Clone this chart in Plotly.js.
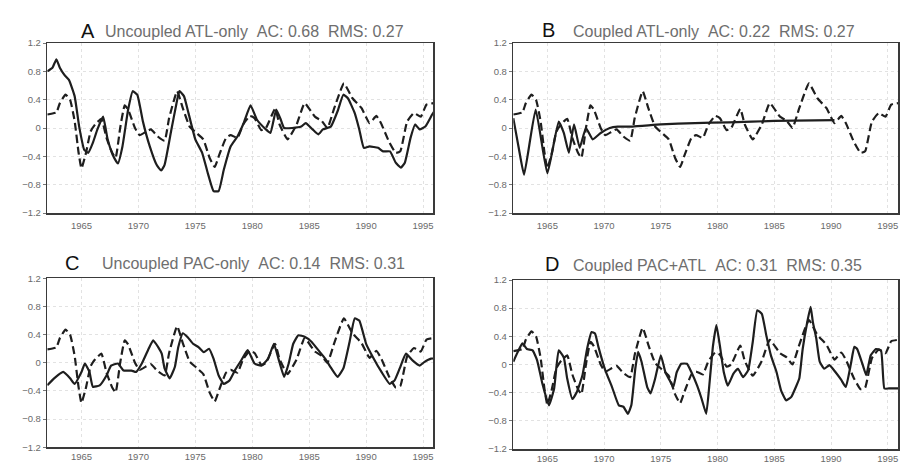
<!DOCTYPE html>
<html>
<head>
<meta charset="utf-8">
<script src="https://cdn.plot.ly/plotly-3.0.1.min.js"></script>
<style>html,body{margin:0;padding:0;background:#fff;}#chart{width:901px;height:463px;}</style>
</head>
<body>
<div id="chart"></div>
<script>
// Observed (dashed) series, shared by all panels
var obsYears = [1962.0,1962.8,1963.1,1963.6,1964.0,1964.4,1964.75,1965.0,1965.4,1965.8,1966.2,1966.75,1967.2,1967.7,1968.0,1968.4,1968.8,1969.1,1969.7,1970.1,1970.7,1971.1,1971.7,1972.3,1972.7,1973.4,1973.9,1974.5,1975.1,1975.7,1976.25,1976.7,1977.1,1977.7,1978.1,1978.7,1979.2,1979.8,1980.2,1980.8,1981.2,1982.0,1982.4,1983.1,1983.9,1984.6,1985.5,1986.1,1986.6,1987.2,1988.05,1988.8,1989.6,1990.3,1990.9,1991.3,1992.0,1992.6,1993.0,1993.6,1994.2,1994.8,1995.3,1995.9];
var obsValues = [0.19,0.22,0.35,0.47,0.4,0.1,-0.35,-0.57,-0.35,-0.05,0.05,0.13,-0.14,-0.35,-0.42,0.0,0.32,0.26,0.0,-0.1,-0.05,-0.02,-0.12,-0.18,0.14,0.52,0.28,0.02,-0.07,-0.16,-0.42,-0.55,-0.38,-0.14,-0.1,-0.14,0.05,0.17,0.14,-0.03,0.0,0.27,0.05,-0.16,0.05,0.35,0.16,0.1,0.0,0.28,0.63,0.42,0.28,0.07,0.17,0.07,-0.19,-0.35,-0.33,0.09,0.21,0.16,0.33,0.35];

// A: Uncoupled ATL-only
var uncAtlYears = [1962.0,1962.45,1962.8,1963.1,1963.5,1963.9,1964.4,1964.8,1965.25,1965.6,1966.0,1966.4,1966.9,1967.3,1967.75,1968.2,1968.6,1969.1,1969.5,1969.9,1970.4,1971.0,1971.6,1972.0,1972.3,1972.9,1973.3,1973.6,1974.0,1974.4,1975.0,1975.6,1976.1,1976.6,1977.05,1977.5,1978.1,1978.7,1979.25,1979.85,1980.4,1981.2,1981.6,1982.1,1982.5,1982.8,1983.5,1984.3,1984.7,1985.3,1985.8,1986.2,1986.9,1987.5,1988.0,1988.4,1989.0,1989.4,1989.8,1990.3,1991.05,1991.5,1992.1,1992.6,1993.05,1993.4,1993.9,1994.3,1994.7,1995.2,1995.8,1996.0];
var uncAtlValues = [0.8,0.85,0.97,0.85,0.75,0.68,0.45,0.02,-0.31,-0.35,-0.21,-0.02,0.16,-0.16,-0.38,-0.5,-0.26,0.26,0.52,0.47,0.09,-0.26,-0.52,-0.6,-0.52,-0.02,0.31,0.52,0.45,0.21,-0.16,-0.35,-0.64,-0.89,-0.89,-0.59,-0.26,-0.12,0.07,0.32,0.12,-0.02,-0.07,0.26,0.12,0,0,0.02,0.07,-0.02,-0.09,-0.02,0.02,0.24,0.47,0.42,0.21,-0.02,-0.28,-0.26,-0.28,-0.33,-0.33,-0.49,-0.56,-0.49,-0.14,0.05,-0.02,0.02,0.19,0.24];

// B: Coupled ATL-only
var cplAtlYears = [1962.0,1962.5,1962.95,1963.97,1965.0,1966.0,1966.45,1966.9,1967.35,1967.85,1968.4,1969.0,1969.7,1970.5,1971.2,1972.5,1975.0,1978.0,1981.0,1985.0,1990.3];
var cplAtlValues = [0.14,-0.3,-0.66,0.26,-0.64,0.09,-0.07,-0.35,0.05,-0.28,0,-0.16,-0.07,0,0.02,0.02,0.05,0.07,0.08,0.1,0.11];

// C: Uncoupled PAC-only
var uncPacYears = [1962.0,1962.6,1963.4,1964.0,1964.4,1965.0,1965.3,1965.7,1966.0,1966.6,1967.2,1967.6,1968.2,1968.7,1969.4,1969.8,1970.3,1970.9,1971.3,1971.75,1972.05,1972.3,1972.75,1973.2,1973.5,1973.9,1974.35,1974.8,1975.3,1975.75,1976.2,1976.6,1977.05,1977.5,1978.0,1978.5,1979.05,1979.6,1980.2,1980.8,1981.4,1981.9,1982.3,1982.8,1983.2,1983.6,1984.05,1984.6,1985.2,1985.8,1986.4,1986.95,1987.5,1988.0,1988.55,1989.0,1989.4,1990.0,1990.6,1991.35,1992.07,1992.5,1992.95,1993.5,1994.1,1994.7,1995.1,1995.7,1996.0];
var uncPacValues = [-0.32,-0.22,-0.13,-0.22,-0.3,-0.13,-0.01,-0.13,-0.34,-0.32,-0.18,-0.04,-0.01,-0.11,-0.11,-0.13,-0.01,0.2,0.32,0.22,0.13,-0.08,-0.22,-0.06,0.22,0.42,0.36,0.27,0.22,0.15,0.2,0.06,-0.18,-0.3,-0.25,-0.1,0.04,0.18,-0.01,-0.04,0.06,0.27,0.06,-0.2,-0.01,0.27,0.39,0.37,0.3,0.18,0.06,-0.08,-0.2,-0.08,0.3,0.63,0.6,0.27,0.08,-0.13,-0.3,-0.25,-0.08,0.13,0.03,-0.04,0.01,0.06,0.06];

// D: Coupled PAC+ATL
var cplBothYears = [1962.0,1962.4,1962.8,1963.2,1963.7,1964.1,1964.56,1965.14,1965.6,1966.0,1966.45,1966.75,1967.2,1967.6,1968.1,1968.5,1968.9,1969.2,1969.5,1970.1,1970.7,1971.3,1971.7,1972.1,1972.4,1972.75,1973.0,1973.3,1973.8,1974.1,1974.5,1975.0,1975.4,1975.8,1976.1,1976.4,1976.8,1977.3,1977.7,1978.2,1978.6,1979.0,1979.3,1979.6,1979.9,1980.2,1980.55,1980.9,1981.4,1981.8,1982.25,1982.7,1983.1,1983.5,1983.9,1984.3,1984.7,1985.2,1985.6,1986.05,1986.5,1986.9,1987.2,1987.5,1987.9,1988.2,1988.4,1988.7,1989.0,1989.4,1989.85,1990.4,1990.9,1991.3,1991.75,1992.05,1992.3,1992.8,1993.1,1993.5,1993.95,1994.4,1994.7,1995.1,1996.0];
var cplBothValues = [0.04,0.18,0.3,0.22,0.2,0.06,-0.27,-0.58,-0.34,0.2,0.1,-0.2,-0.49,-0.39,-0.15,0.22,0.46,0.44,0.25,-0.08,-0.32,-0.58,-0.6,-0.7,-0.58,-0.06,0.18,0.04,-0.32,-0.41,-0.2,0.13,-0.11,-0.23,-0.32,-0.11,0.01,0.01,-0.11,-0.3,-0.49,-0.7,-0.25,0.27,0.56,0.27,-0.11,-0.3,-0.13,-0.06,-0.18,-0.08,0.32,0.77,0.72,0.41,0.13,-0.11,-0.37,-0.51,-0.46,-0.32,-0.2,0.22,0.6,0.82,0.6,0.37,0.04,-0.06,-0.01,-0.11,-0.22,-0.32,0.01,0.25,0.22,-0.01,-0.15,0.13,0.22,0.2,-0.34,-0.34,-0.34];

var panelLetters = ["A","B","C","D"];
var panelTitles = ["Uncoupled ATL-only&nbsp;&nbsp;AC: 0.68&nbsp;&nbsp;RMS: 0.27","Coupled ATL-only&nbsp;&nbsp;AC: 0.22&nbsp;&nbsp;RMS: 0.27","Uncoupled PAC-only&nbsp;&nbsp;AC: 0.14&nbsp;&nbsp;RMS: 0.31","Coupled PAC+ATL&nbsp;&nbsp;AC: 0.31&nbsp;&nbsp;RMS: 0.35"];
var yTicks = [-1.2,-0.8,-0.4,0,0.4,0.8,1.2];
var xTicks = [1965,1970,1975,1980,1985,1990,1995];

var W = 901, H = 463;
var boxes = [ // px: left, right, top, bottom
  [47.3, 433.3, 43, 213],
  [513.3, 898, 43, 213],
  [47.3, 433.3, 278.3, 447.3],
  [513.3, 898, 280, 449]
];
var letterPos = [[88,31],[548,30],[72,263],[552,264]];
var titlePos = [[103,31],[571,31],[100,263],[571,265]];
var standoffs = [3,3,0,0];

var models = [[uncAtlYears,uncAtlValues],[cplAtlYears,cplAtlValues],[uncPacYears,uncPacValues],[cplBothYears,cplBothValues]];

var data = [];
var layout = {width:W,height:H,margin:{l:0,r:0,t:0,b:0},paper_bgcolor:'#fff',plot_bgcolor:'#fff',showlegend:false,annotations:[]};
var lineCol = '#1e1e1e';
for (var i=0;i<4;i++){
  var sx = i===0?'':String(i+1);
  data.push({x:obsYears,y:obsValues,xaxis:'x'+sx,yaxis:'y'+sx,mode:'lines',line:{color:lineCol,width:2.2,dash:'8px,4px',shape:'spline',smoothing:0.4},hoverinfo:'skip'});
  data.push({x:models[i][0],y:models[i][1],xaxis:'x'+sx,yaxis:'y'+sx,mode:'lines',line:{color:lineCol,width:2.2,shape:'spline',smoothing:0.4},hoverinfo:'skip'});
  var b = boxes[i];
  var ax = {domain:[b[0]/W,b[1]/W],range:[1962,1995.9],tickvals:xTicks,showgrid:true,gridcolor:'#e2e2e2',griddash:'dot',gridwidth:1,zeroline:false,showline:true,mirror:true,linecolor:'#3a3a3a',linewidth:1.5,ticks:'',ticklabelstandoff:standoffs[i],tickfont:{family:'Liberation Sans, Arial, sans-serif',size:9.5,color:'#6a6a6a'},ticklabeloverflow:'allow',anchor:'y'+sx,fixedrange:true};
  var ay = {domain:[1-b[3]/H,1-b[2]/H],range:[-1.2,1.2],tickvals:yTicks,showgrid:true,gridcolor:'#e2e2e2',griddash:'dot',gridwidth:1,zeroline:false,showline:true,mirror:true,linecolor:'#3a3a3a',linewidth:1.5,ticks:'outside',ticklen:3,tickcolor:'#777',tickfont:{family:'Liberation Sans, Arial, sans-serif',size:9.5,color:'#6a6a6a'},anchor:'x'+sx,fixedrange:true};
  layout['xaxis'+sx] = ax;
  layout['yaxis'+sx] = ay;
  layout.annotations.push({xref:'paper',yref:'paper',x:letterPos[i][0]/W,y:1-letterPos[i][1]/H,xanchor:'center',yanchor:'middle',text:panelLetters[i],showarrow:false,font:{family:'Liberation Sans, Arial, sans-serif',size:20,color:'#111'}});
  layout.annotations.push({xref:'paper',yref:'paper',x:titlePos[i][0]/W,y:1-titlePos[i][1]/H,xanchor:'left',yanchor:'middle',text:panelTitles[i],showarrow:false,font:{family:'Liberation Sans, Arial, sans-serif',size:16,color:'#6e6e6e'}});
}
Plotly.newPlot('chart',data,layout,{displayModeBar:false,staticPlot:true});
</script>
</body>
</html>
